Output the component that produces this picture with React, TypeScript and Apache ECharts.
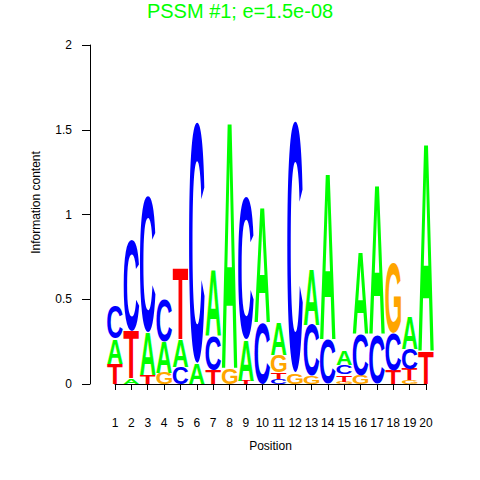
import React, { useEffect, useRef } from 'react';
import * as echarts from 'echarts';

const positions = [1, 2, 3, 4, 5, 6, 7, 8, 9, 10, 11, 12, 13, 14, 15, 16, 17, 18, 19, 20];
const letters = ['A', 'C', 'G', 'T'];
const letterColors = ['#00FF00', '#0000FF', '#FFA500', '#FF0000'];
const bitsA = [0.147, 0.03, 0.25, 0.18, 0.16, 0.12, 0.39, 1.46, 0.24, 0.68, 0.19, 0, 0.33, 0.98, 0.08, 0.48, 0.88, 0, 0.19, 1.23];
const bitsC = [0.195, 0.54, 0.8, 0.25, 0.1, 1.42, 0.2, 0, 0.84, 0.36, 0.03, 1.48, 0.3, 0.26, 0.055, 0.24, 0.29, 0.22, 0.12, 0];
const bitsG = [0, 0, 0, 0.07, 0, 0, 0, 0.09, 0, 0, 0.1, 0.065, 0.045, 0, 0.015, 0.05, 0, 0.41, 0.02, 0];
const bitsT = [0.118, 0.28, 0.05, 0, 0.42, 0, 0.08, 0, 0.02, 0, 0.04, 0, 0, 0, 0.04, 0, 0, 0.08, 0.065, 0.19];
const yTicks = [0, 0.5, 1, 1.5, 2];
const titleText = 'PSSM #1; e=1.5e-08';
const xName = 'Position';
const yName = 'Information content';

const FONT = '"Liberation Sans", Arial, Helvetica, sans-serif';
const LETTER_FONT = `bold 100px ${FONT}`;
const HALF = 0.475;

// offset (in px at 100px font) of the alphabetic baseline below the SVG "central" baseline
function measureCentralOffset(): number {
  const NS = 'http://www.w3.org/2000/svg';
  const svg = document.createElementNS(NS, 'svg');
  svg.setAttribute('width', '400');
  svg.setAttribute('height', '400');
  svg.style.position = 'absolute';
  svg.style.left = '-1000px';
  svg.style.top = '0';
  const mk = (central: boolean) => {
    const t = document.createElementNS(NS, 'text');
    t.setAttribute('x', '0');
    t.setAttribute('y', '200');
    t.setAttribute('style', `font: ${LETTER_FONT}`);
    if (central) t.setAttribute('dominant-baseline', 'central');
    t.textContent = 'A';
    svg.appendChild(t);
    return t;
  };
  const tc = mk(true);
  const ta = mk(false);
  document.body.appendChild(svg);
  let off = 0;
  try {
    off = tc.getBBox().y - ta.getBBox().y;
  } catch (e) {
    off = 34.65;
  }
  document.body.removeChild(svg);
  return off;
}

function measureLetters() {
  const c = document.createElement('canvas');
  const ctx = c.getContext('2d') as CanvasRenderingContext2D;
  ctx.font = LETTER_FONT;
  ctx.textBaseline = 'alphabetic';
  ctx.textAlign = 'left';
  return letters.map((L) => {
    const m = ctx.measureText(L);
    return {
      l: m.actualBoundingBoxLeft,
      r: m.actualBoundingBoxRight,
      a: m.actualBoundingBoxAscent,
      d: m.actualBoundingBoxDescent,
    };
  });
}

function buildStacks() {
  const all = [bitsA, bitsC, bitsG, bitsT];
  const items: number[][] = [];
  positions.forEach((p, i) => {
    const col = all
      .map((arr, li) => ({ li, h: arr[i] }))
      .filter((o) => o.h > 0)
      .sort((a, b) => a.h - b.h);
    let acc = 0;
    col.forEach((o) => {
      items.push([p, acc, acc + o.h, o.li]);
      acc += o.h;
    });
  });
  return items;
}

export default function App() {
  const ref = useRef<HTMLDivElement>(null);
  useEffect(() => {
    if (!ref.current) return;
    document.body.style.margin = '0';
    const chart = echarts.init(ref.current, undefined, { renderer: 'svg' });
    const metrics = measureLetters();
    const cOff = measureCentralOffset();
    const data = buildStacks();
    const axisColor = '#000';
    const option: any = {
      animation: false,
      backgroundColor: '#fff',
      title: {
        text: titleText,
        left: 'center',
        top: 3,
        padding: 0,
        textStyle: { fontSize: 20, lineHeight: 16, fontWeight: 'normal', color: '#00FF00', fontFamily: FONT },
      },
      grid: [
        { left: 106.8, top: 45, width: 327.4, height: 339 },
        { left: 115, top: 45, width: 311, height: 339 },
      ],
      xAxis: [
        { type: 'value', gridIndex: 0, min: 0.5, max: 20.5, show: false },
        {
          type: 'value',
          gridIndex: 1,
          min: positions[0],
          max: positions[positions.length - 1],
          interval: 1,
          position: 'bottom',
          offset: 18,
          axisLine: { show: true, lineStyle: { color: axisColor, width: 1 } },
          axisTick: { show: true, length: 6, lineStyle: { color: axisColor } },
          axisLabel: { margin: 15, color: '#000', fontSize: 12, fontFamily: FONT, showMinLabel: true, showMaxLabel: true },
          splitLine: { show: false },
          name: xName,
          nameLocation: 'middle',
          nameGap: 38,
          nameTextStyle: { color: '#000', fontSize: 12, fontFamily: FONT },
        },
      ],
      yAxis: [
        {
          type: 'value',
          gridIndex: 0,
          min: yTicks[0],
          max: yTicks[yTicks.length - 1],
          interval: yTicks[1] - yTicks[0],
          position: 'left',
          offset: 16.8,
          axisLine: { show: true, lineStyle: { color: axisColor, width: 1 } },
          axisTick: { show: true, length: 8, lineStyle: { color: axisColor } },
          axisLabel: { margin: 18, color: '#000', fontSize: 12, fontFamily: FONT },
          splitLine: { show: false },
        },
        { type: 'value', gridIndex: 1, min: 0, max: 2, show: false },
      ],
      graphic: [
        {
          type: 'text',
          x: 36,
          y: 202.5,
          rotation: Math.PI / 2,
          style: {
            text: yName,
            font: `12px ${FONT}`,
            fill: '#000',
            align: 'center',
            verticalAlign: 'middle',
            textAlign: 'center',
            textVerticalAlign: 'middle',
          },
        },
      ],
      series: [
        {
          type: 'custom',
          xAxisIndex: 0,
          yAxisIndex: 0,
          data,
          encode: { x: 0, y: [1, 2] },
          renderItem: (params: any, api: any) => {
            const pos = api.value(0) as number;
            const y0 = api.value(1) as number;
            const y1 = api.value(2) as number;
            const li = api.value(3) as number;
            const bl = api.coord([pos - HALF, y0]);
            const tr = api.coord([pos + HALF, y1]);
            const w = tr[0] - bl[0];
            const h = bl[1] - tr[1];
            if (h <= 0.1) return null;
            const m = metrics[li];
            const sx = w / (m.l + m.r);
            const sy = h / (m.a + m.d);
            return {
              type: 'text',
              x: bl[0] + sx * m.l,
              y: tr[1] - sy * (cOff - m.a),
              scaleX: sx,
              scaleY: sy,
              style: {
                text: letters[li],
                font: LETTER_FONT,
                fill: letterColors[li],
                align: 'left',
                verticalAlign: 'middle',
                textAlign: 'left',
                textVerticalAlign: 'middle',
              },
            };
          },
        },
      ],
    };
    chart.setOption(option);
    return () => chart.dispose();
  }, []);
  return <div ref={ref} style={{ position: 'absolute', left: 0, top: 0, width: 480, height: 480 }} />;
}
